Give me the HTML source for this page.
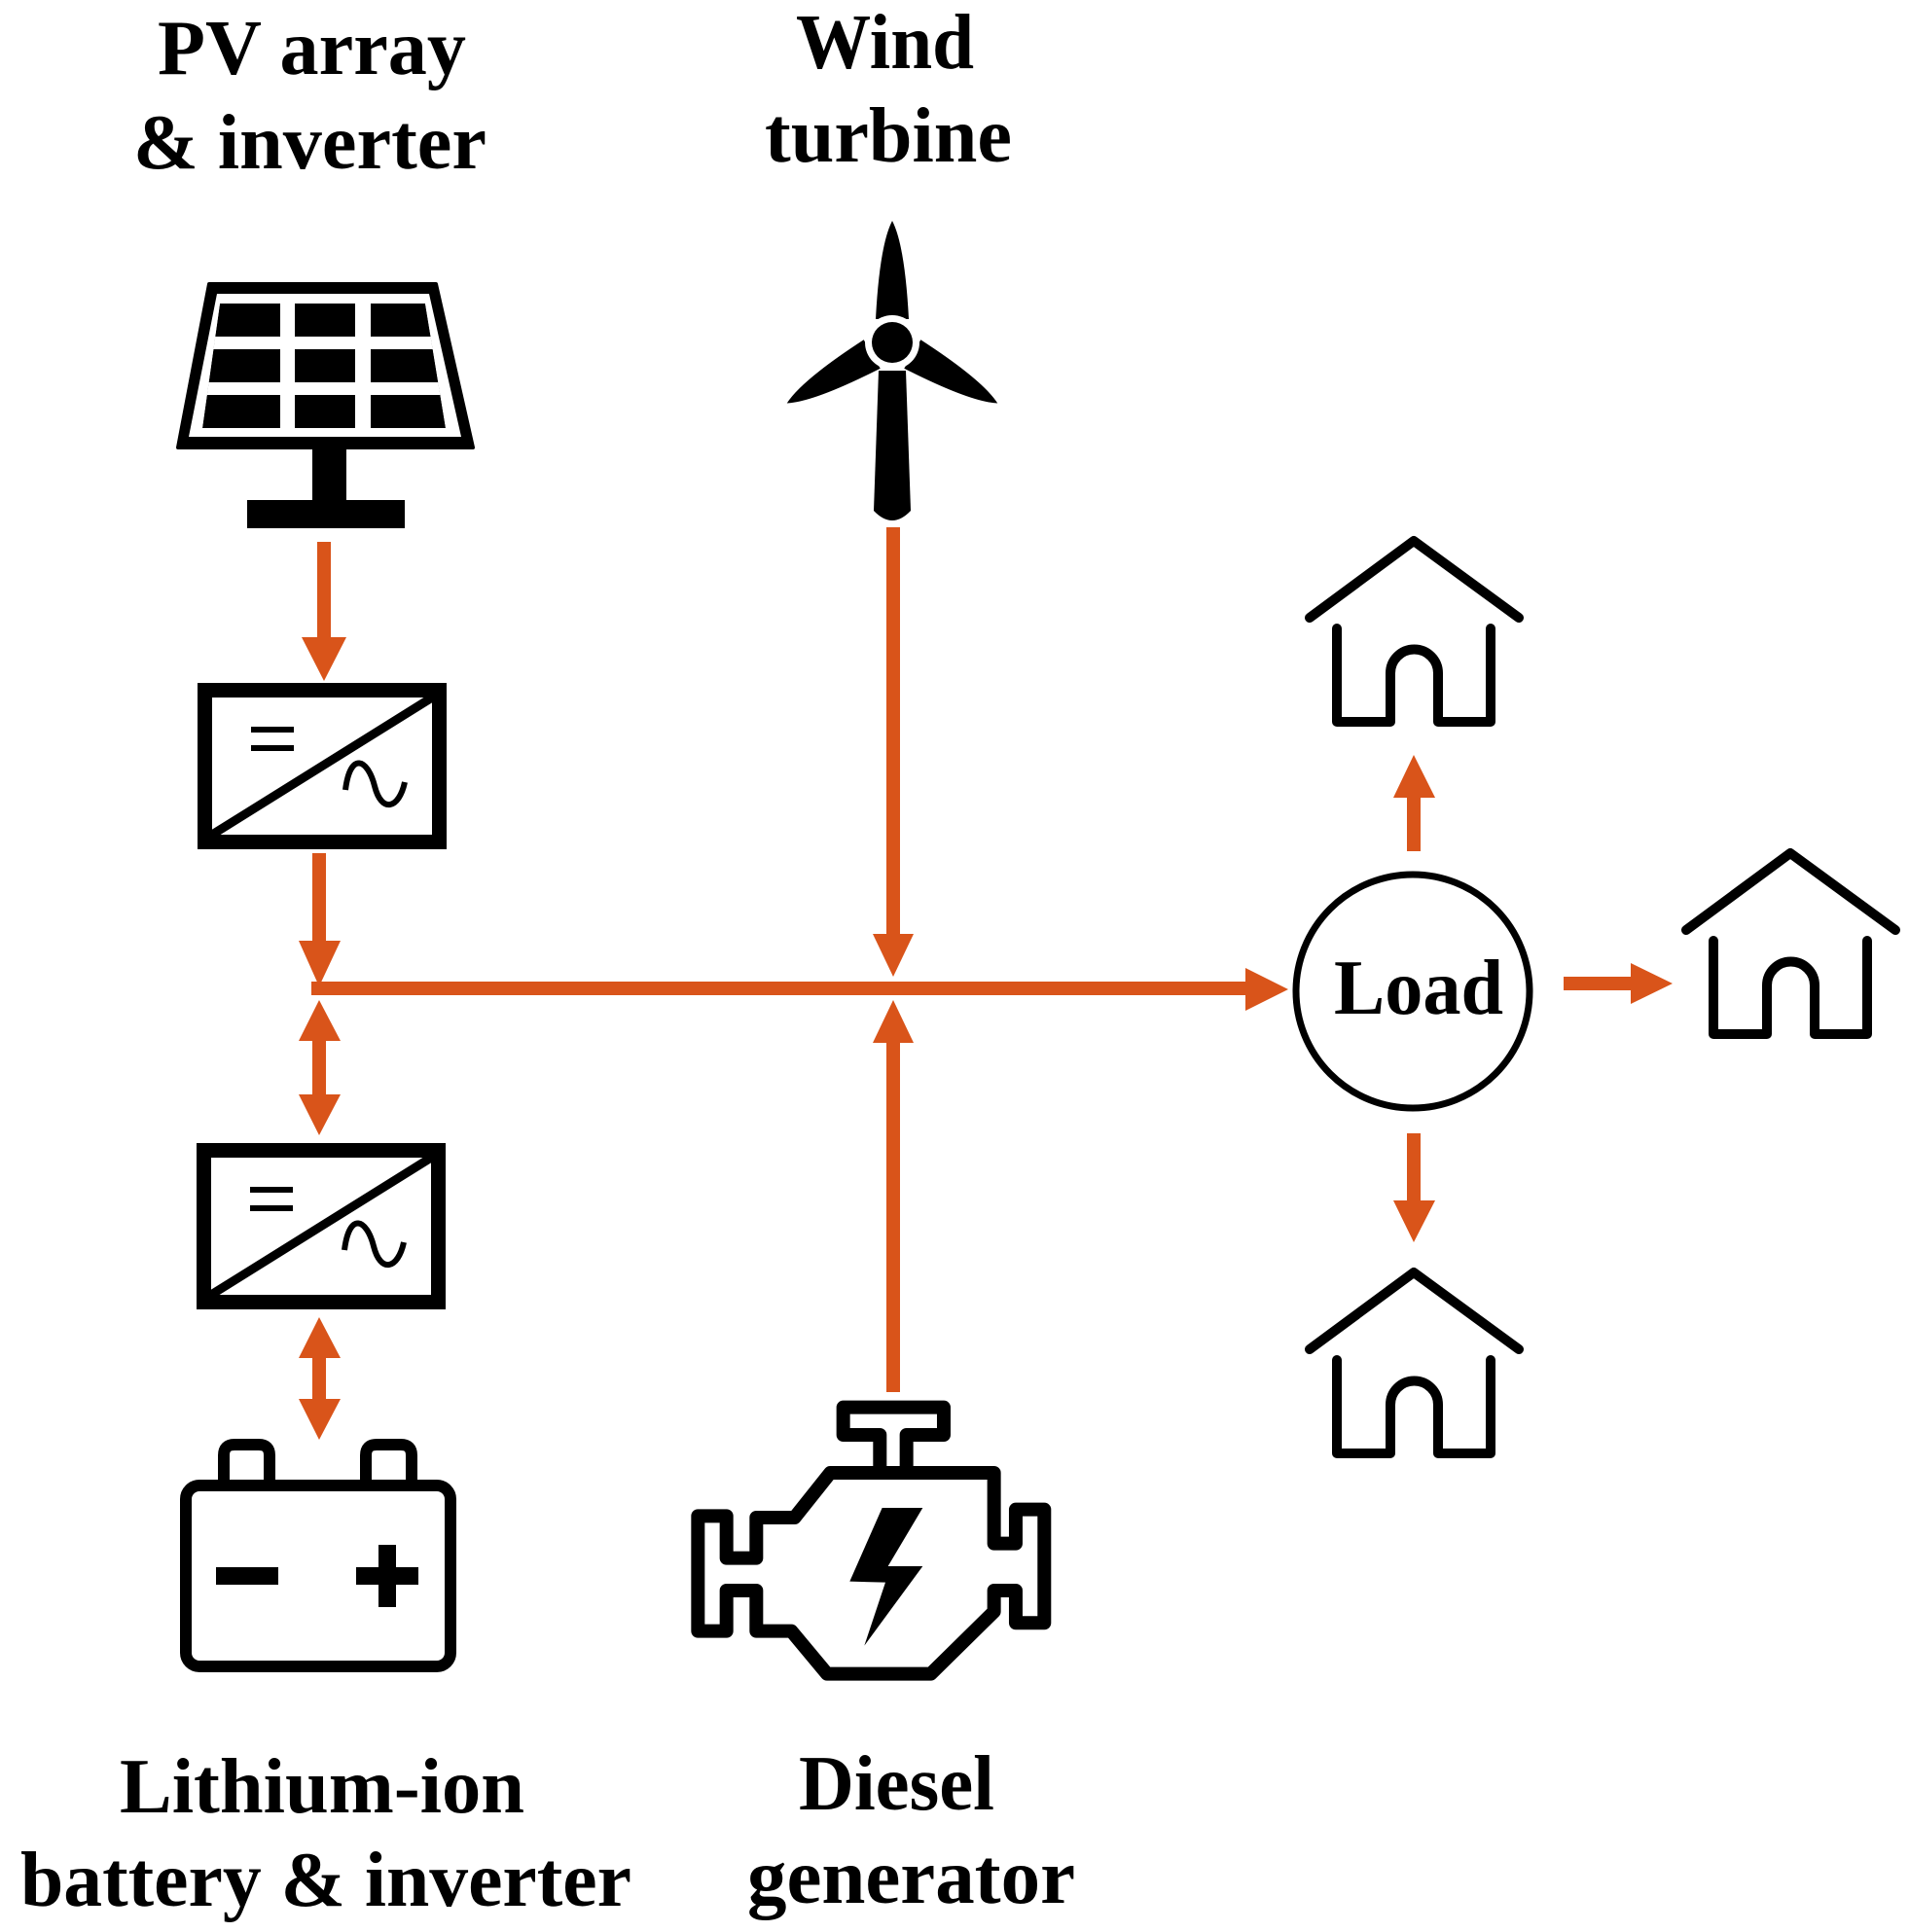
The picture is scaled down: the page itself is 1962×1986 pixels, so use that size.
<!DOCTYPE html>
<html><head><meta charset="utf-8"><style>html,body{margin:0;padding:0;background:#fff}svg{display:block}</style></head>
<body>
<svg width="1962" height="1986" viewBox="0 0 1962 1986" xmlns="http://www.w3.org/2000/svg">
<defs>
<clipPath id="cells"><polygon points="226,312 437,312 458,440 208,440"/></clipPath>
</defs>
<rect width="1962" height="1986" fill="#fff"/>
<g font-family="Liberation Serif, serif" font-weight="bold" font-size="80" fill="#000">
<text x="162" y="76" textLength="317" lengthAdjust="spacingAndGlyphs">PV array</text>
<text x="137" y="173" textLength="363" lengthAdjust="spacingAndGlyphs">&amp; inverter</text>
<text x="818" y="70" textLength="183" lengthAdjust="spacingAndGlyphs">Wind</text>
<text x="786" y="166" textLength="254" lengthAdjust="spacingAndGlyphs">turbine</text>
<text x="123" y="1863" textLength="416" lengthAdjust="spacingAndGlyphs">Lithium-ion</text>
<text x="21" y="1959" textLength="628" lengthAdjust="spacingAndGlyphs">battery &amp; inverter</text>
<text x="821" y="1860" textLength="201" lengthAdjust="spacingAndGlyphs">Diesel</text>
<text x="768" y="1956" textLength="337" lengthAdjust="spacingAndGlyphs">generator</text>
<text x="1371" y="1042" textLength="174" lengthAdjust="spacingAndGlyphs">Load</text>
</g>

<!-- Solar panel -->
<polygon points="215,292 448,292 486,460 183,460" fill="#000" stroke="#000" stroke-width="4" stroke-linejoin="round"/>
<polygon points="223,302 441,302 474,449 194,449" fill="#fff"/>
<g clip-path="url(#cells)">
<polygon points="226,312 437,312 458,440 208,440" fill="#000"/>
<rect x="190" y="346" width="290" height="13" fill="#fff"/>
<rect x="190" y="393" width="290" height="13" fill="#fff"/>
<rect x="288" y="305" width="15" height="140" fill="#fff"/>
<rect x="365" y="305" width="16" height="140" fill="#fff"/>
</g>
<rect x="321" y="460" width="35" height="56" fill="#000"/>
<rect x="254" y="514" width="162" height="29" fill="#000"/>

<!-- Wind turbine -->
<g transform="translate(917,352)" fill="#000">
<path d="M-17,-24 Q-13,-100 0,-125 Q13,-100 17,-24 Z"/>
<path d="M-17,-24 Q-13,-100 0,-125 Q13,-100 17,-24 Z" transform="rotate(-120)"/>
<path d="M-17,-24 Q-13,-100 0,-125 Q13,-100 17,-24 Z" transform="rotate(120)"/>
<circle r="28" fill="#fff"/>
<circle r="21"/>
</g>
<path d="M903,381 L931,381 L936,525 Q917,545 898,525 Z" fill="#000"/>

<!-- Converters -->
<g fill="none" stroke="#000">
<rect x="210.5" y="709.5" width="241" height="156" stroke-width="15"/>
<line x1="218" y1="858" x2="444" y2="717" stroke-width="9"/>
<line x1="258" y1="750" x2="302" y2="750" stroke-width="6"/>
<line x1="258" y1="769" x2="302" y2="769" stroke-width="6"/>
<path d="M355,812 C360,772 378,780 385,808 C392,836 410,832 416,804" stroke-width="6"/>
</g>
<g fill="none" stroke="#000" transform="translate(-1,473)">
<rect x="210.5" y="709.5" width="241" height="156" stroke-width="15"/>
<line x1="218" y1="858" x2="444" y2="717" stroke-width="9"/>
<line x1="258" y1="750" x2="302" y2="750" stroke-width="6"/>
<line x1="258" y1="769" x2="302" y2="769" stroke-width="6"/>
<path d="M355,812 C360,772 378,780 385,808 C392,836 410,832 416,804" stroke-width="6"/>
</g>

<!-- Battery -->
<g fill="none" stroke="#000" stroke-width="12" stroke-linejoin="round">
<rect x="191" y="1527" width="272" height="186" rx="14"/>
<path d="M230,1527 V1496 Q230,1485 241,1485 H266 Q277,1485 277,1496 V1527"/>
<path d="M376,1527 V1496 Q376,1485 387,1485 H412 Q423,1485 423,1496 V1527"/>
</g>
<rect x="222" y="1611" width="64" height="18" fill="#000"/>
<rect x="366" y="1611" width="64" height="18" fill="#000"/>
<rect x="389" y="1588" width="18" height="64" fill="#000"/>

<!-- Engine -->
<g transform="translate(690,1400) scale(0.3333)">
<path d="M490,342 L995,342 L995,560 L1062,560 L1062,455 L1150,455 L1150,805 L1062,805 L1062,705 L995,705 L995,770 L800,962 L480,962 L370,830 L262,830 L262,705 L170,705 L170,830 L82,830 L82,475 L170,475 L170,605 L262,605 L262,480 L380,480 Z" fill="none" stroke="#000" stroke-width="42" stroke-linejoin="round"/>
<path d="M643,342 L643,225 L530,225 L530,140 L840,140 L840,225 L725,225 L725,342" fill="none" stroke="#000" stroke-width="42" stroke-linejoin="round"/>
<polygon points="650,450 775,450 668,630 775,630 595,875 660,680 550,677" fill="#000"/>
</g>

<!-- Load circle -->
<circle cx="1452" cy="1019" r="120" fill="none" stroke="#000" stroke-width="7"/>

<!-- Houses -->
<g id="house" fill="none" stroke="#000" stroke-width="10" stroke-linecap="round" stroke-linejoin="round">
<polyline points="1346,635 1453,556 1561,635"/>
<path d="M1374,646 V742 H1429 V692 A24.5,24.5 0 0 1 1478,692 V742 H1532 V646"/>
</g>
<use href="#house" transform="translate(387,321)"/>
<use href="#house" transform="translate(0,752)"/>

<!-- Orange arrows -->
<g fill="#D9541A">
<rect x="326" y="557" width="14" height="104"/>
<polygon points="310,655 356,655 333,700"/>
<rect x="321" y="877" width="14" height="95"/>
<polygon points="307,967 350,967 328,1014"/>
<rect x="320" y="1009" width="965" height="14"/>
<polygon points="1280,995 1280,1039 1324,1017"/>
<rect x="911" y="542" width="14" height="425"/>
<polygon points="897,960 939,960 918,1004"/>
<rect x="911" y="1066" width="14" height="365"/>
<polygon points="897,1072 939,1072 918,1028"/>
<rect x="321" y="1065" width="14" height="65"/>
<polygon points="307,1070 350,1070 328,1028"/>
<polygon points="307,1125 350,1125 328,1167"/>
<rect x="321" y="1390" width="14" height="55"/>
<polygon points="307,1396 350,1396 328,1354"/>
<polygon points="307,1438 350,1438 328,1480"/>
<rect x="1446" y="815" width="14" height="60"/>
<polygon points="1432,820 1475,820 1453,776"/>
<rect x="1607" y="1004" width="73" height="14"/>
<polygon points="1676,990 1676,1032 1719,1011"/>
<rect x="1446" y="1165" width="14" height="75"/>
<polygon points="1432,1234 1475,1234 1453,1277"/>
</g>
</svg>
</body></html>
